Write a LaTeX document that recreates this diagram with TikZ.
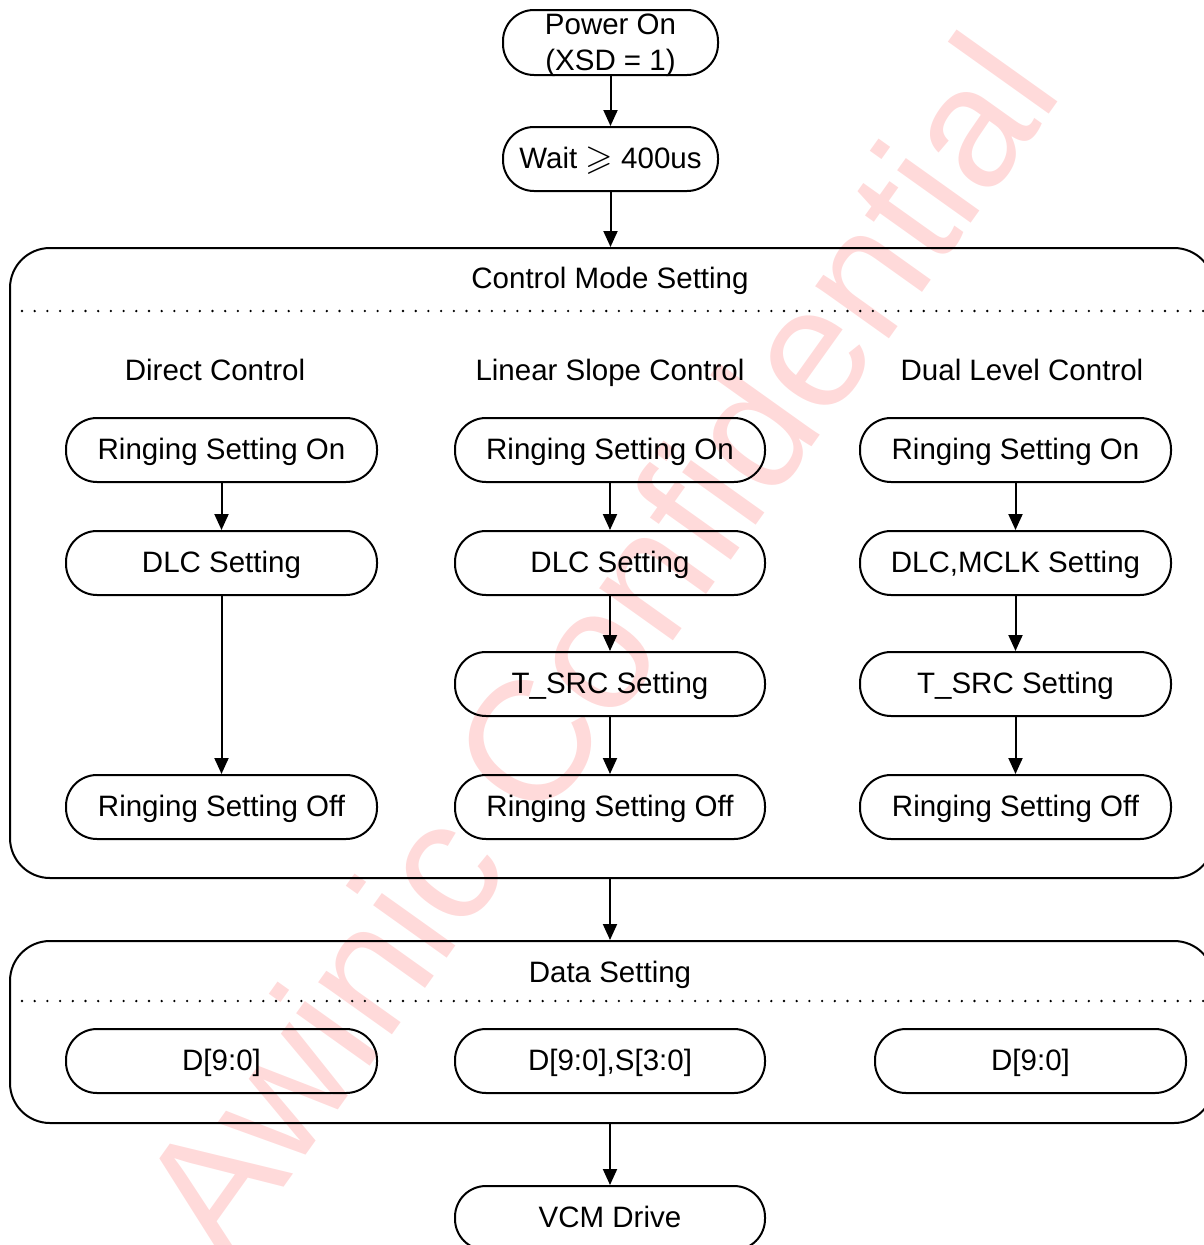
\documentclass[tikz,border=0pt]{standalone}
\usepackage{fontspec}
\setmainfont{Liberation Sans}
\usepackage{amssymb}
\usepackage{graphicx}
\usetikzlibrary{arrows.meta}
\definecolor{wm}{RGB}{255,218,218}
\begin{document}
\begin{tikzpicture}[x=1pt,y=-1pt,
  every node/.style={font=\fontsize{29.5}{36}\selectfont},
  stadium/.style={draw, line width=2pt, rounded corners=31pt, minimum width=311pt, minimum height=64pt, inner sep=0pt, text height=22pt, text depth=3pt},
  container/.style={draw, line width=2pt, rounded corners=40pt, inner sep=0pt},
  lbl/.style={inner sep=0pt, text height=22pt, text depth=3pt},
  arr/.style={line width=2pt, -{Triangle[length=16pt,width=14pt]}},
  dotline/.style={line width=2.6pt, line cap=round, dash pattern=on 0pt off 12.7pt}
]
\useasboundingbox (0,0) rectangle (1204,1245);
\clip (0,0) rectangle (1204,1245);

% watermark
\node[text=wm, rotate=54.5, anchor=base, inner sep=0pt, font=\fontsize{171}{190}\selectfont] (wmk) at (646,679.5) {Awinic Confidential};

% top
\node[stadium, minimum width=215pt, minimum height=65pt] (pwr) at (610.5,42.5) {};
\node[align=center, inner sep=0pt] (pwrt) at (610.5,45) {Power On\\(XSD = 1)};
\node[stadium, minimum width=215pt] (wait) at (610.5,159) {Wait \raisebox{-1pt}{\scalebox{1.2}{$\geqslant$}} 400us};

% control mode container
\node[container, minimum width=1204pt, minimum height=630pt] (cms) at (612,563) {};
\node[lbl] (cmst) at (610,279) {Control Mode Setting};
\coordinate (cmdl) at (22,311);
\coordinate (cmdr) at (1204,311);
\draw[dotline] (cmdl) -- (cmdr);

\node[lbl] (h1) at (215,371) {Direct Control};
\node[lbl] (h2) at (610,371) {Linear Slope Control};
\node[lbl] (h3) at (1022,371) {Dual Level Control};

% column 1
\node[stadium] (a1) at (221.5,450) {Ringing Setting On};
\node[stadium] (a2) at (221.5,563) {DLC Setting};
\node[stadium] (a4) at (221.5,807) {Ringing Setting Off};
% column 2
\node[stadium, minimum width=310pt] (b1) at (610,450) {Ringing Setting On};
\node[stadium, minimum width=310pt] (b2) at (610,563) {DLC Setting};
\node[stadium, minimum width=310pt] (b3) at (610,684) {T\_SRC Setting};
\node[stadium, minimum width=310pt] (b4) at (610,807) {Ringing Setting Off};
% column 3
\node[stadium] (c1) at (1015.5,450) {Ringing Setting On};
\node[stadium] (c2) at (1015.5,563) {DLC,MCLK Setting};
\node[stadium] (c3) at (1015.5,684) {T\_SRC Setting};
\node[stadium] (c4) at (1015.5,807) {Ringing Setting Off};

% data setting container
\node[container, minimum width=1204pt, minimum height=182pt] (ds) at (612,1032) {};
\node[lbl] (dst) at (610,973) {Data Setting};
\coordinate (dsdl) at (22,1001);
\coordinate (dsdr) at (1204,1001);
\draw[dotline] (dsdl) -- (dsdr);

\node[stadium] (d1) at (221.5,1061) {D[9:0]};
\node[stadium, minimum width=310pt] (d2) at (610,1061) {D[9:0],S[3:0]};
\node[stadium] (d3) at (1030.5,1061) {D[9:0]};

\node[stadium, minimum width=310pt] (vcm) at (610,1218) {VCM Drive};

% arrows
\draw[arr] (pwr) -- (wait);
\draw[arr] (wait.south) -- (wait.south |- cms.north);
\draw[arr] (a1) -- (a2);
\draw[arr] (a2) -- (a4);
\draw[arr] (b1) -- (b2);
\draw[arr] (b2) -- (b3);
\draw[arr] (b3) -- (b4);
\draw[arr] (c1) -- (c2);
\draw[arr] (c2) -- (c3);
\draw[arr] (c3) -- (c4);
\draw[arr] (cms.south -| b4.south) -- (ds.north -| b4.south);
\draw[arr] (ds.south -| vcm.north) -- (vcm.north);
\end{tikzpicture}
\end{document}
